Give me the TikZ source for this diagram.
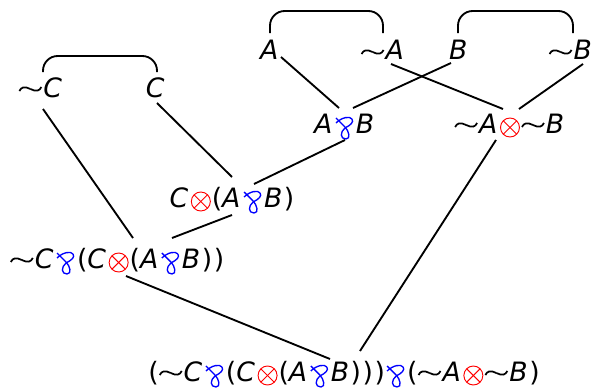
\documentclass[tikz,border=0pt]{standalone}
\usepackage{fontspec}
\setmainfont{DejaVu Sans}[LetterSpace=6]
\usepackage{pict2e}
\usepackage{tikz}

% hand drawn connectives, unit = 1px of the picture
\newcommand{\pa}{{\setlength{\unitlength}{0.75pt}\color{blue}%
  \begin{picture}(22,14)\linethickness{1pt}%
    \Line(2,15)(11,6)
    \cbezier(11,6)(15,2)(17,-6)(12,-6)
    \cbezier(12,-6)(6,-6)(6,1)(11,5)
    \cbezier(11,5)(17,8)(20,11)(18,14)
    \cbezier(18,14)(16,17)(8,16)(2,10)
  \end{picture}}}
\newcommand{\te}{{\setlength{\unitlength}{0.75pt}\color{red}%
  \begin{picture}(22,14)\linethickness{0.7pt}%
    \put(11,5.5){\circle{19}}
    \Line(4.28,-1.22)(17.72,12.22)
    \Line(4.28,12.22)(17.72,-1.22)
  \end{picture}}}
\newcommand{\lneg}{{\setlength{\unitlength}{0.75pt}%
  \begin{picture}(25,14)\linethickness{1.3pt}%
    \cbezier(1,6)(3,10)(6,11)(12,8)
    \cbezier(12,8)(18,5)(21,6)(23,10)
  \end{picture}}}
\newcommand{\at}[1]{\textit{#1}}

\begin{document}
\begin{tikzpicture}[x=0.75pt, y=-0.75pt,
    fml/.style={anchor=base, inner sep=0pt, font=\fontsize{20}{24}\selectfont},
    edge/.style={line width=1.4pt},
    link/.style={line width=1.4pt, rounded corners=11pt}]
      \useasboundingbox (0,0) rectangle (594,389);

      % atoms
      \node[fml] (a)  at (270, 60) {\at{A}};
      \node[fml] (na) at (383, 60) {\lneg\at{A}};
      \node[fml] (b)  at (459, 60) {\at{B}};
      \node[fml] (nb) at (571, 60) {\lneg\at{B}};
      \node[fml] (nc) at (41, 97) {\lneg\at{C}};
      \node[fml] (c)  at (156, 97) {\at{C}};

      % compound formulas
      \node[fml] (apb)   at (345, 133) {\at{A}\pa\at{B}};
      \node[fml] (natnb) at (510, 133) {\lneg\at{A}\te\lneg\at{B}};
      \node[fml] (cta)   at (232, 207) {\at{C}\te(\at{A}\pa\at{B})};
      \node[fml] (ncp)   at (117, 268) {\lneg\at{C}\pa(\at{C}\te(\at{A}\pa\at{B}))};
      \node[fml] (root)  at (344, 381) {(\lneg\at{C}\pa(\at{C}\te(\at{A}\pa\at{B})))\pa(\lneg\at{A}\te\lneg\at{B})};

      % axiom links
      \draw[link] ([shift={(0,-27)}]a.base) -- ([shift={(0,-49)}]a.base)
        -- ([shift={(0,-49)}]na.base) -- ([shift={(0,-27)}]na.base);
      \draw[link] ([shift={(-1,-27)}]b.base) -- ([shift={(-1,-49)}]b.base)
        -- ([shift={(2,-49)}]nb.base) -- ([shift={(2,-27)}]nb.base);
      \draw[link] ([shift={(2,-25)}]nc.base) -- ([shift={(2,-41)}]nc.base)
        -- ([shift={(1,-41)}]c.base) -- ([shift={(1,-25)}]c.base);

      % rule edges
      \draw[edge] ([shift={(11,-3)}]a.base) -- ([shift={(-6,-25)}]apb.base);
      \draw[edge] ([shift={(-8,3)}]b.base) -- ([shift={(8,-25)}]apb.base);
      \draw[edge] ([shift={(8,4)}]na.base) -- ([shift={(-7,-24)}]natnb.base);
      \draw[edge] ([shift={(12,4)}]nb.base) -- ([shift={(9,-24)}]natnb.base);
      \draw[edge] ([shift={(2,12)}]nc.base) -- ([shift={(16,-30)}]ncp.base);
      \draw[edge] ([shift={(1,6)}]c.base) -- ([shift={(0,-30)}]cta.base);
      \draw[edge] ([shift={(0,7)}]apb.base) -- ([shift={(22,-23)}]cta.base);
      \draw[edge] ([shift={(0,8)}]cta.base) -- ([shift={(55,-30)}]ncp.base);
      \draw[edge] ([shift={(9,8)}]ncp.base) -- ([shift={(-14,-22)}]root.base);
      \draw[edge] ([shift={(-14,7)}]natnb.base) -- ([shift={(16,-30)}]root.base);
    \end{tikzpicture}
\end{document}
